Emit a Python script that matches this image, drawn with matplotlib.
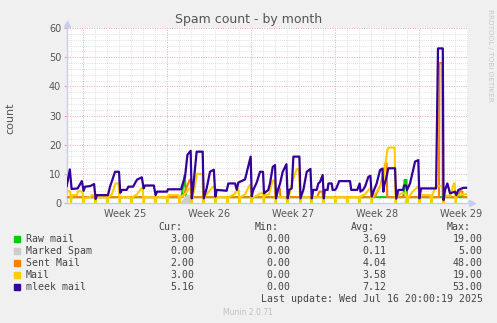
import matplotlib
matplotlib.use("Agg")
import matplotlib.pyplot as plt
import numpy as np

# time in days since Monday 16 Jun 2025 (start of week 25)
mleek_t = [-1.36, -1.1, -0.95, -0.45, -0.1, 0.05, 0.17, 0.6, 0.92, 1.05, 1.17, 2.08, 2.25, 2.67, 3.0, 3.1,
           3.25, 3.64, 3.78, 4.17, 4.5, 4.9, 5.05, 5.17, 5.9, 6.05, 6.17, 7.0, 7.08, 8.17, 8.33, 8.5, 8.7,
           8.97, 9.06, 9.17, 9.47, 9.97, 10.06, 10.3, 10.58, 10.9, 11.03, 11.14, 11.97, 12.11, 12.67, 12.81,
           12.94, 13.5, 13.97, 14.06, 14.19, 14.47, 14.75, 15.0, 15.08, 15.44, 15.58, 15.81, 16.0, 16.08,
           16.25, 16.42, 16.64, 16.95, 17.05, 17.19, 17.39, 17.53, 18.03, 18.12, 18.36, 18.64, 18.95, 19.06,
           19.19, 19.47, 19.61, 19.75, 19.97, 20.06, 20.15, 20.38, 20.45, 20.72, 20.8, 21.0, 21.1, 21.35,
           22.25, 22.35, 22.85, 23.05, 23.12, 23.33, 23.5, 23.78, 23.95, 24.06, 24.25, 24.47, 24.75, 24.95,
           25.03, 25.1, 25.25, 25.44, 26.0, 26.1, 26.28, 26.67, 26.75, 26.92, 27.0, 27.25, 27.67, 27.94,
           28.03, 28.17, 29.42, 29.58, 29.98, 30.04, 30.17, 30.36, 30.5, 30.58, 31.0, 31.1, 31.28, 31.69, 31.92]
mleek_v = [5.8, 11.5, 4.8, 5.0, 7.5, 4.2, 5.6, 5.8, 6.5, 1.4, 2.7, 2.7, 5.6, 10.7, 10.7, 3.5,
           4.5, 4.5, 5.6, 5.6, 8, 8.8, 5, 6, 6, 2.7, 3.9, 3.9, 4.7, 4.7, 6.9, 9, 16.5,
           17.9, 1.6, 5, 17.6, 17.6, 1.6, 5, 10.7, 11.4, 2.2, 4.5, 4.2, 6.7, 6.7, 4.5,
           7, 8.1, 15.9, 2.3, 4.5, 7, 10.7, 10.7, 3.3, 4.5, 6.7, 12.4, 13, 1.6,
           4.5, 6.7, 10.7, 13.3, 1.6, 4.5, 5, 15.9, 15.9, 1.6, 4.5, 10.7, 11.7, 1.6,
           4.5, 4.5, 6.7, 7.2, 9.6, 1.6, 4.5, 4.5, 6.7, 6.7, 4.5, 4.5, 5, 7.5,
           7.5, 4.5, 4.5, 6.7, 3.9, 4.5, 5.6, 9, 9.3, 2.2, 4.5, 6.7, 11.3, 11.8,
           3.9, 6, 8.3, 11.9, 11.9, 1.5, 4.5, 4.5, 6, 6, 4.5, 6.7, 14.2, 14.7,
           1.6, 5, 5, 53, 53, 1, 4.5, 6.7, 4.5, 3.3, 3.9, 2.7, 4.5, 5.2, 5.2]

mail_t = [-1.36, -1.08, -1.0, -0.92, -0.5, -0.42, -0.05, 0.03, 0.12, 0.6, 0.7, 0.95, 1.03, 1.12, 1.95,
          2.03, 2.12, 2.4, 2.7, 2.97, 3.05, 3.12, 3.95, 4.03, 4.12, 4.5, 4.85, 4.97, 5.05, 5.12, 5.95,
          6.03, 6.12, 6.95, 7.03, 7.12, 7.95, 8.03, 8.12, 8.5, 8.85, 8.97, 9.05, 9.12, 9.3, 9.5, 9.95,
          10.03, 10.12, 10.5, 10.85, 10.97, 11.03, 11.12, 11.95, 12.03, 12.12, 12.6, 12.9, 12.97, 13.03,
          13.12, 13.5, 13.9, 13.97, 14.03, 14.12, 14.5, 14.75, 15.0, 15.06, 15.12, 15.5, 15.8, 15.97,
          16.05, 16.12, 16.95, 17.03, 17.12, 17.5, 17.8, 18.0, 18.1, 18.18, 18.95, 19.03, 19.12, 19.95,
          20.03, 20.12, 20.95, 21.03, 21.12, 21.95, 22.03, 22.12, 22.95, 23.03, 23.12, 23.5, 23.9, 23.97,
          24.05, 24.12, 24.5, 24.9, 25.0, 25.35, 25.45, 25.97, 26.05, 26.12, 26.5, 26.95, 27.03, 27.12,
          27.5, 27.9, 27.97, 28.03, 28.12, 28.95, 29.03, 29.12, 29.4, 29.97, 30.03, 30.12, 30.6, 30.9,
          30.97, 31.05, 31.12, 31.92]
mail_v = [4, 4, 0, 2.7, 2.7, 4, 4, 0, 1.7, 2, 2.7, 2.7, 0, 2, 2,
          0, 2, 3, 6.7, 6.7, 0, 2, 2, 0, 2, 3, 5, 5, 0, 2, 2,
          0, 2, 2, 0, 2.7, 2.7, 0, 2, 3, 5, 5, 0, 2, 5, 10, 10,
          0, 2, 4, 5.6, 5.6, 0, 2, 2, 0, 2, 3, 4.5, 4.5, 0,
          2, 3, 6.2, 6.2, 0, 2, 2.5, 3.3, 3.3, 0, 2.7, 3, 7.7, 7.7,
          0, 2, 2, 0, 1.6, 8.1, 11.6, 11.6, 0, 2, 2, 0, 2, 2,
          0, 2, 2, 0, 2, 2, 0, 2, 2, 0, 2.2, 3, 5, 5,
          0, 2, 4, 6.7, 7, 18, 19, 19, 0, 2, 3.3, 3.3, 0, 2,
          4, 5.6, 5.6, 0, 2.7, 2.7, 0, 2.7, 5.8, 5.8, 0, 2.5, 2.5, 6.7,
          6.7, 0, 2.7, 3]

sent_t = [-1.36, 8.3, 8.6, 8.9, 9.0, 9.05, 16.1, 16.2, 16.4, 16.45, 19.5, 19.7, 19.95, 20.0,
          24.3, 24.8, 25.2, 25.3, 25.35, 29.66, 29.7, 29.94, 29.97, 31.2, 31.4, 31.6, 31.65, 31.92]
sent_v = [2, 2, 5, 8, 8, 2, 2, 5, 5, 2, 2, 3.9, 3.9, 2,
          2, 6, 13.6, 13.6, 2, 2, 48, 48, 2, 2, 4, 4, 2, 2]

raw_t = [-1.36, 8.2, 8.35, 8.45, 8.55, 8.6, 26.7, 26.8, 26.95, 27.0, 31.92]
raw_v = [2, 2, 6, 9.5, 5, 2, 2, 7.9, 7.9, 2, 2]

spam_t = [-1.36, 8.05, 8.6, 9.0, 9.05, 26.7, 26.8, 26.9, 27.0, 31.92]
spam_v = [0, 0, 3, 3, 0, 0, 1.5, 1.5, 0, 0]

weeks = ["Week 25", "Week 26", "Week 27", "Week 28", "Week 29"]

names = ["Raw mail", "Marked Spam", "Sent Mail", "Mail", "mleek mail"]
colors = ["#00CC00", "#CCCCCC", "#FF8000", "#FFCC00", "#330099"]
cur = [3.00, 0.00, 2.00, 3.00, 5.16]
mins = [0.00, 0.00, 0.00, 0.00, 0.00]
avgs = [3.69, 0.11, 4.04, 3.58, 7.12]
maxs = [19.00, 5.00, 48.00, 19.00, 53.00]

W, H = 497, 323


def fx(x):
    return x / W


def fy(y):
    return 1 - y / H


fig = plt.figure(figsize=(W / 100, H / 100), dpi=100, facecolor="#F0F0F0")
ax = fig.add_axes([fx(66.7), fy(203), (468 - 66.7) / W, (203 - 28) / H])
ax.set_facecolor("white")
x0, x1 = -1.36, 32.08
ax.set_xlim(x0, x1)
ax.set_ylim(0, 60)

# grid
for d in np.arange(-1, 33):
    if d % 7 == 0:
        ax.axvline(d, color="#E8A8A8", lw=0.7, ls=(0, (1, 1.5)), zorder=1)
    else:
        ax.axvline(d, color="#D6D6D6", lw=0.6, ls=(0, (1, 1.5)), zorder=1)
for v in np.arange(2, 61, 2):
    if v % 10 == 0:
        ax.axhline(v, color="#E8A8A8", lw=0.7, ls=(0, (1, 1.5)), zorder=1)
    else:
        ax.axhline(v, color="#D6D6D6", lw=0.6, ls=(0, (1, 1.5)), zorder=1)

# series
ax.plot(raw_t, raw_v, color=colors[0], lw=1.5, zorder=2)
ax.fill_between(spam_t, spam_v, 0, color=colors[1], lw=0, zorder=3)
ax.plot(sent_t, sent_v, color=colors[2], lw=1.5, zorder=4)
ax.plot(mail_t, mail_v, color=colors[3], lw=1.5, zorder=5)
ax.plot(mleek_t, mleek_v, color=colors[4], lw=1.6, zorder=6)

# axes style
for s in ["top", "right"]:
    ax.spines[s].set_visible(False)
for s in ["left", "bottom"]:
    ax.spines[s].set_color("#C8CCF0")
    ax.spines[s].set_linewidth(1)
ax.plot([0], [1.025], marker="^", color="#C8CCF0", ms=4, transform=ax.transAxes, clip_on=False)
ax.plot([1.01], [0], marker=">", color="#C8CCF0", ms=4, transform=ax.transAxes, clip_on=False)

ax.set_yticks(np.arange(0, 61, 10))
ax.tick_params(axis="y", length=2, color="#E8A8A8", labelsize=7, labelcolor="#555555", pad=2)
ax.set_xticks(np.arange(3.5, 35, 7), weeks)
ax.tick_params(axis="x", length=0, labelsize=7, labelcolor="#555555", pad=4)

fig.text(fx(249), fy(19), "Spam count - by month", ha="center", va="center", fontsize=9, color="#555555")
fig.text(fx(10), fy(118), "count", ha="center", va="center", rotation=90, fontsize=8, color="#555555")
fig.text(fx(490), fy(55), "RRDTOOL / TOBI OETIKER", ha="center", va="center", rotation=-90,
         fontsize=5.2, color="#C8C8C8")

# legend table
mono = dict(family="DejaVu Sans Mono", fontsize=7.1, color="#444444", va="center")
cols = [194, 290.7, 386.7, 482.7]
heads = ["Cur:", "Min:", "Avg:", "Max:"]
for c, h in zip(cols, heads):
    fig.text(fx(c - 12), fy(227.3), h, ha="right", **mono)
for i, n in enumerate(names):
    y = 239.3 + 12 * i
    fig.patches.append(plt.Rectangle((fx(14), fy(y + 3)), 6 / W, 6 / H, color=colors[i],
                                     transform=fig.transFigure, figure=fig))
    fig.text(fx(26), fy(y), n, ha="left", **mono)
    for c, vals in zip(cols, [cur, mins, avgs, maxs]):
        fig.text(fx(c), fy(y), "%.2f" % vals[i], ha="right", **mono)
fig.text(fx(482.7), fy(299.3), "Last update: Wed Jul 16 20:00:19 2025", ha="right", **mono)
fig.text(fx(248), fy(312.3), "Munin 2.0.71", ha="center", va="center", fontsize=5.5, color="#C0C0C0")

fig.savefig("out.png", dpi=100, facecolor=fig.get_facecolor())
